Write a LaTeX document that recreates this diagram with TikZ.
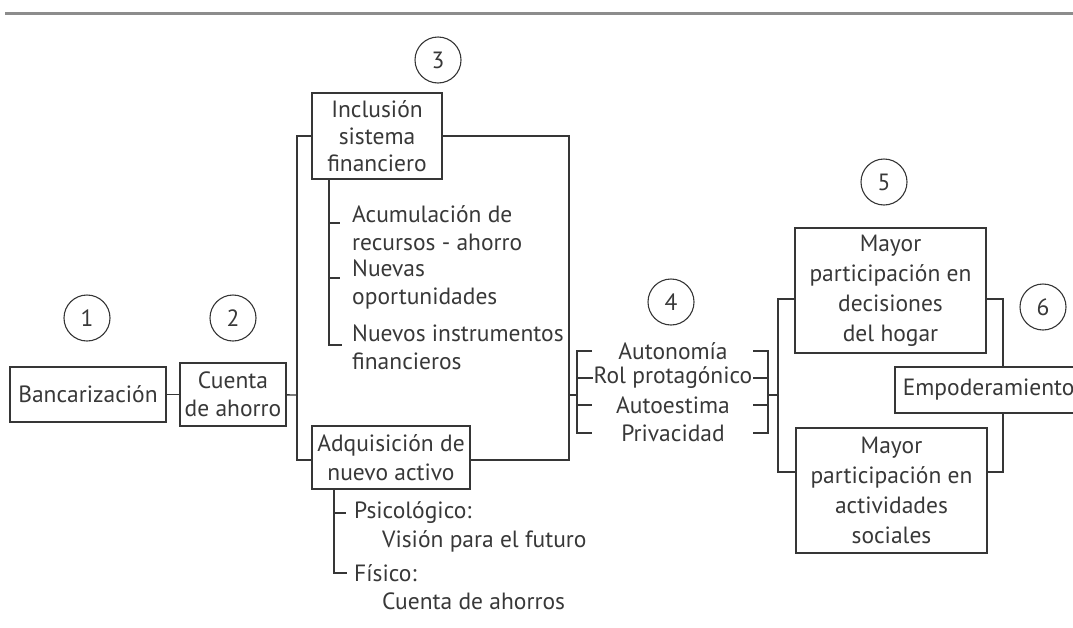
\documentclass[tikz,border=0pt]{standalone}
\usepackage{fontspec}
\setmainfont{PT Sans}
\definecolor{ink}{HTML}{363636}
\definecolor{txt}{HTML}{383838}
\definecolor{rule}{HTML}{8C8C8C}
\begin{document}
\begin{tikzpicture}[x=1pt,y=-1pt,
  every node/.style={text=txt,font=\fontsize{23.5}{28}\selectfont},
  conn/.style={draw=ink,line width=1.4pt},
  box/.style={draw=ink,line width=1.6pt,fill=white,inner sep=0pt,align=center},
  num/.style={draw=ink,circle,line width=1.1pt,minimum size=46pt,inner sep=0pt},
  item/.style={anchor=west,align=left,inner sep=0pt}]
\clip (0,0) rectangle (1073,627);
% top rule
\draw[rule,line width=3pt] (5,13) -- (1073,13);
% numbers
\node[num] (n1) at (87,318) {1};
\node[num] (n2) at (233,318) {2};
\node[num] (n3) at (438,60) {3};
\node[num] (n4) at (671,302) {4};
\node[num] (n5) at (884,182) {5};
\node[num] (n6) at (1043,307) {6};
% boxes
\node[box,minimum width=156pt,minimum height=55pt] (banc) at (88,394.5) {Bancarización};
\node[box,minimum width=106pt,minimum height=63pt] (cuenta) at (233,394.5) {Cuenta\\de ahorro};
\node[box,minimum width=130pt,minimum height=86pt,font=\fontsize{23.5}{27}\selectfont] (incl) at (377,136) {Inclusión\\sistema\\financiero};
\node[box,minimum width=158pt,minimum height=63pt,font=\fontsize{23.5}{29}\selectfont] (adq) at (391,457.5) {Adquisición de\\nuevo activo};
\node[box,minimum width=191pt,minimum height=125pt,font=\fontsize{23.5}{30}\selectfont] (m1) at (890.5,290.5) {Mayor\\participación en\\decisiones\\del hogar};
\node[box,minimum width=191pt,minimum height=125pt,font=\fontsize{23.5}{30}\selectfont] (m2) at (891.5,490.5) {Mayor\\participación en\\actividades\\sociales};
\node[box,anchor=west,minimum width=200pt,minimum height=46pt,text width=190pt,align=left,inner xsep=8pt] (emp) at (894,390) {Empoderamiento};
% coordinates for routing
\coordinate (j1) at (297,395);
\coordinate (j2) at (569,395);
\coordinate (y136) at (0,136);
\coordinate (y460) at (0,460);
\coordinate (bl) at (577,395);
\coordinate (br) at (768,395);
\coordinate (j3) at (778,395);
\coordinate (a299) at (0,299);
\coordinate (a472) at (0,472);
\coordinate (k) at (1003,390);
% connectors
\draw[conn] (banc) -- (cuenta);
\draw[conn] (cuenta) -- (j1);
\draw[conn] (incl.west |- y136) -| (j1) |- (adq.west |- y460);
\draw[conn] (incl.east |- y136) -| (j2) |- (adq.east |- y460);
\draw[conn] (j2) -- (bl);
% group 4 brackets
\node (t1) at (673,351) {Autonomía};
\node[inner xsep=1pt] (t2) at (673,378) {Rol protagónico};
\node (t3) at (673,405) {Autoestima};
\node (t4) at (673,433) {Privacidad};
\draw[conn] (592,351) -- (577,351) -- (577,433) -- (592,433);
\draw[conn] (577,378) -- (t2.west);
\draw[conn] (577,405) -- (592,405);
\draw[conn] (753,351) -- (768,351) -- (768,433) -- (753,433);
\draw[conn] (768,378) -- (t2.east);
\draw[conn] (768,405) -- (753,405);
\draw[conn] (br) -- (j3);
% right side
\draw[conn] (m1.west |- a299) -| (j3) |- (m2.west |- a472);
\draw[conn] (m1.east |- a299) -| (emp.north -| k);
\draw[conn] (emp.south -| k) |- (m2.east |- a472);
% inclusion sub-items
\coordinate (s1) at (329,179);
\draw[conn] (s1) -- (329,345) -- (342,345);
\draw[conn] (329,223) -- (340,223);
\draw[conn] (329,278) -- (340,278);
\node[item] (i1) at (352,228) {Acumulación de\\recursos - ahorro};
\node[item] (i2) at (352,284) {Nuevas\\oportunidades};
\node[item] (i3) at (352,347) {Nuevos instrumentos\\financieros};
% adquisicion sub-items
\coordinate (s2) at (334,489);
\draw[conn] (s2) -- (334,573) -- (347,573);
\draw[conn] (334,513) -- (346,513);
\node[item] (p1) at (354,513) {Psicológico:};
\node[item] (p2) at (382,541) {Visión para el futuro};
\node[item] (p3) at (354,573) {Físico:};
\node[item] (p4) at (382,601) {Cuenta de ahorros};
\end{tikzpicture}
\end{document}
